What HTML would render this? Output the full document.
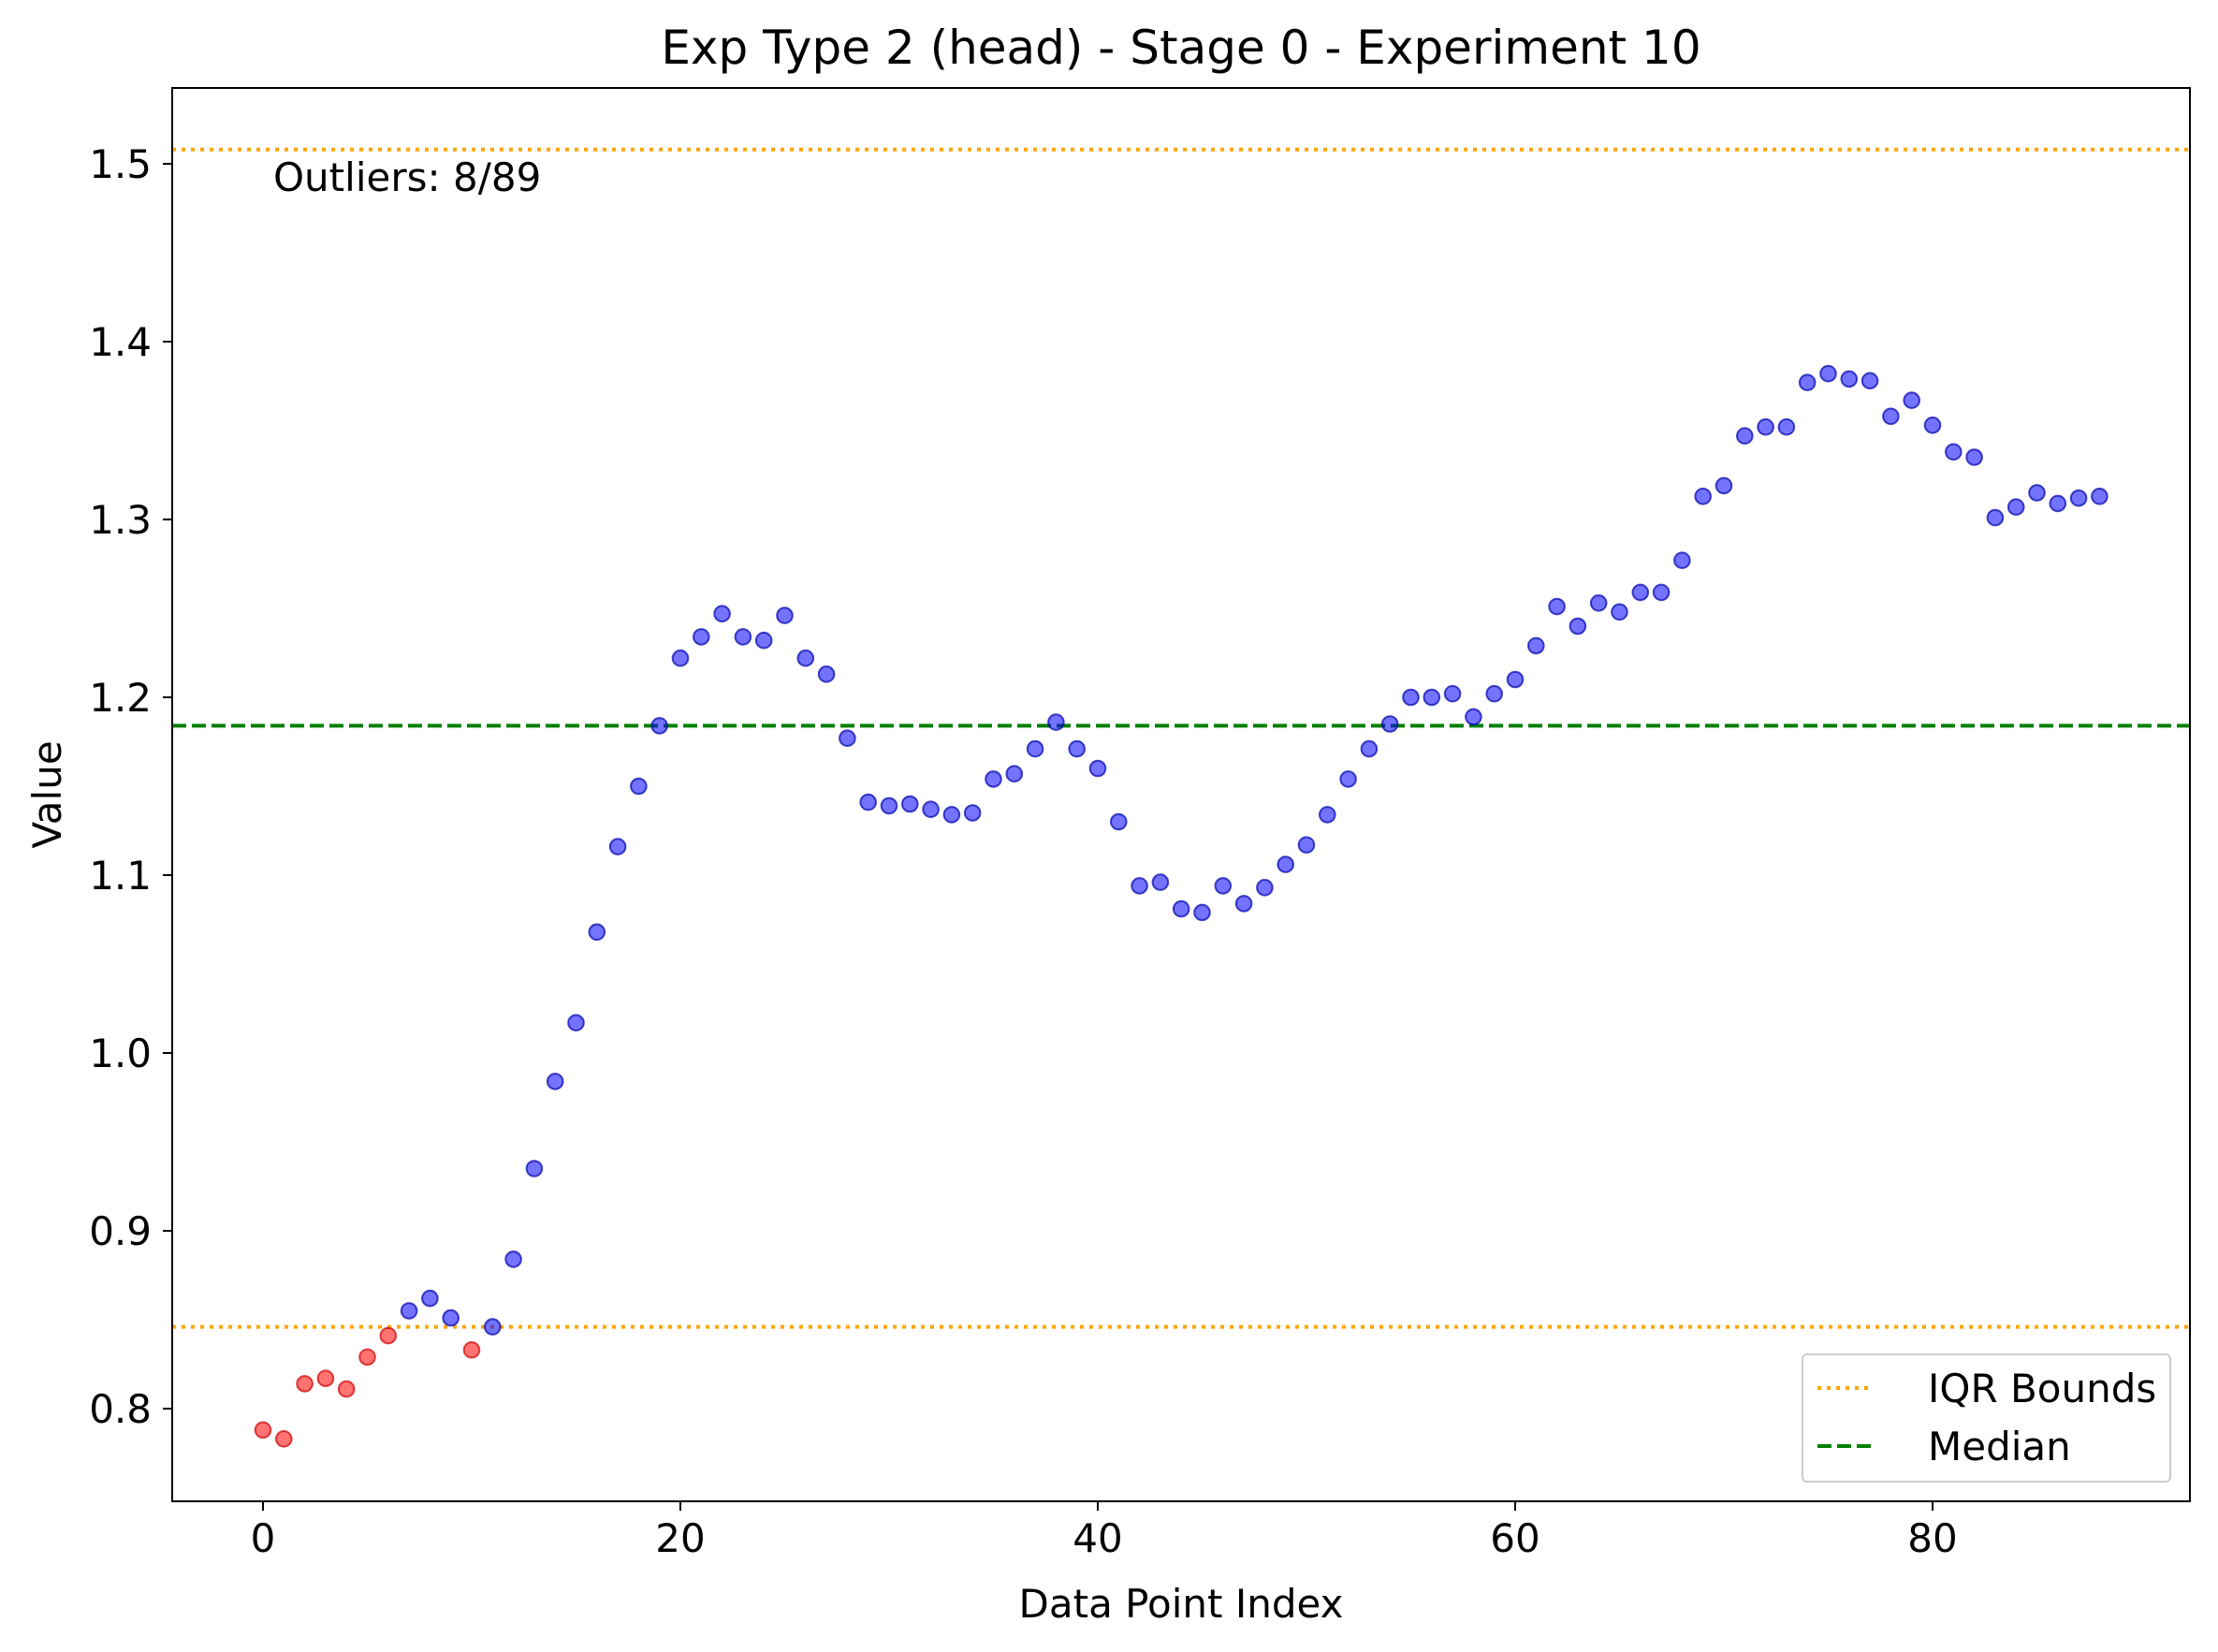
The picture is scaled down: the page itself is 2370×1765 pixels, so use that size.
<!DOCTYPE html>
<html><head><meta charset="utf-8"><style>
html,body{margin:0;padding:0;background:#fff;}
svg{display:block;font-family:"DejaVu Sans","Liberation Sans",sans-serif;}
</style></head><body>
<svg id="chart" width="2370" height="1765" viewBox="0 0 2370 1765">
<rect width="2370" height="1765" fill="#fff"/>
<text x="1262" y="68" font-size="50" text-anchor="middle">Exp Type 2 (head) - Stage 0 - Experiment 10</text>
<g id="lines"></g>
<g id="points"></g>
<rect x="184" y="94" width="2156" height="1510" fill="none" stroke="#000" stroke-width="2"/>
<g id="xticks"></g><g id="yticks"></g>
<text x="1262" y="1728" font-size="42" text-anchor="middle">Data Point Index</text>
<text x="65" y="849" font-size="42" text-anchor="middle" transform="rotate(-90 65 849)">Value</text>
<text x="292" y="204" font-size="42">Outliers: 8/89</text>
<g>
<rect x="1926" y="1447" width="393" height="136" rx="5" fill="#fff" fill-opacity="0.8" stroke="#ccc" stroke-width="2"/>
<g>
<line x1="1942" y1="1483" x2="2002" y2="1483" stroke="orange" stroke-width="4" stroke-dasharray="4,6"/>
<text x="2060" y="1498" font-size="42">IQR Bounds</text></g>
<g>
<line x1="1942" y1="1545" x2="2002" y2="1545" stroke="green" stroke-width="4" stroke-dasharray="15,6"/>
<text x="2060" y="1560" font-size="42">Median</text></g>
</g>
</svg>
<script>
const values=[0.788,0.783,0.814,0.817,0.811,0.829,0.841,0.855,0.862,0.851,0.833,0.846,0.884,0.935,0.984,1.017,1.068,1.116,1.150,1.184,1.222,1.234,1.247,1.234,1.232,1.246,1.222,1.213,1.177,1.141,1.139,1.140,1.137,1.134,1.135,1.154,1.157,1.171,1.186,1.171,1.160,1.130,1.094,1.096,1.081,1.079,1.094,1.084,1.093,1.106,1.117,1.134,1.154,1.171,1.185,1.200,1.200,1.202,1.189,1.202,1.210,1.229,1.251,1.240,1.253,1.248,1.259,1.259,1.277,1.313,1.319,1.347,1.352,1.352,1.377,1.382,1.379,1.378,1.358,1.367,1.353,1.338,1.335,1.301,1.307,1.315,1.309,1.312,1.313];
const outlierIdx=[0,1,2,3,4,5,6,10];
const bounds=[0.846,1.508];
const median=[1.184];
const xTicks=[0,20,40,60,80];
const yTicks=[0.8,0.9,1.0,1.1,1.2,1.3,1.4,1.5];
const NS="http://www.w3.org/2000/svg";
const X=v=>281+v*22.3;
const Y=v=>175+(1.5-v)*1900;
function mk(t,a,p){const e=document.createElementNS(NS,t);for(const k in a)e.setAttribute(k,a[k]);p.appendChild(e);return e;}
const L=document.getElementById('lines');
bounds.forEach(b=>{const l=mk('line',{x1:184,x2:2340,y1:Y(b),y2:Y(b),stroke:'orange','stroke-width':4,'stroke-dasharray':'4,6'},L);

});
median.forEach(m=>{const l=mk('line',{x1:184,x2:2340,y1:Y(m),y2:Y(m),stroke:'green','stroke-width':4,'stroke-dasharray':'15,6'},L);

});
const P=document.getElementById('points');
values.forEach((v,i)=>{const o=outlierIdx.includes(i);
const c=mk('circle',{cx:X(i),cy:Y(v),r:8.3,fill:o?'red':'blue','fill-opacity':0.55,stroke:o?'#c00':'#00a','stroke-opacity':0.7,'stroke-width':2},P);

});
const XT=document.getElementById('xticks');
xTicks.forEach(t=>{mk('line',{x1:X(t),x2:X(t),y1:1604,y2:1614,stroke:'#000','stroke-width':2},XT);
const tx=mk('text',{x:X(t),y:1658,'font-size':42,'text-anchor':'middle'},XT);tx.textContent=t;

});
const YT=document.getElementById('yticks');
yTicks.forEach(t=>{mk('line',{x1:174,x2:184,y1:Y(t),y2:Y(t),stroke:'#000','stroke-width':2},YT);
const tx=mk('text',{x:162,y:Y(t)+15,'font-size':42,'text-anchor':'end'},YT);tx.textContent=t.toFixed(1);

});
</script>
</body></html>
